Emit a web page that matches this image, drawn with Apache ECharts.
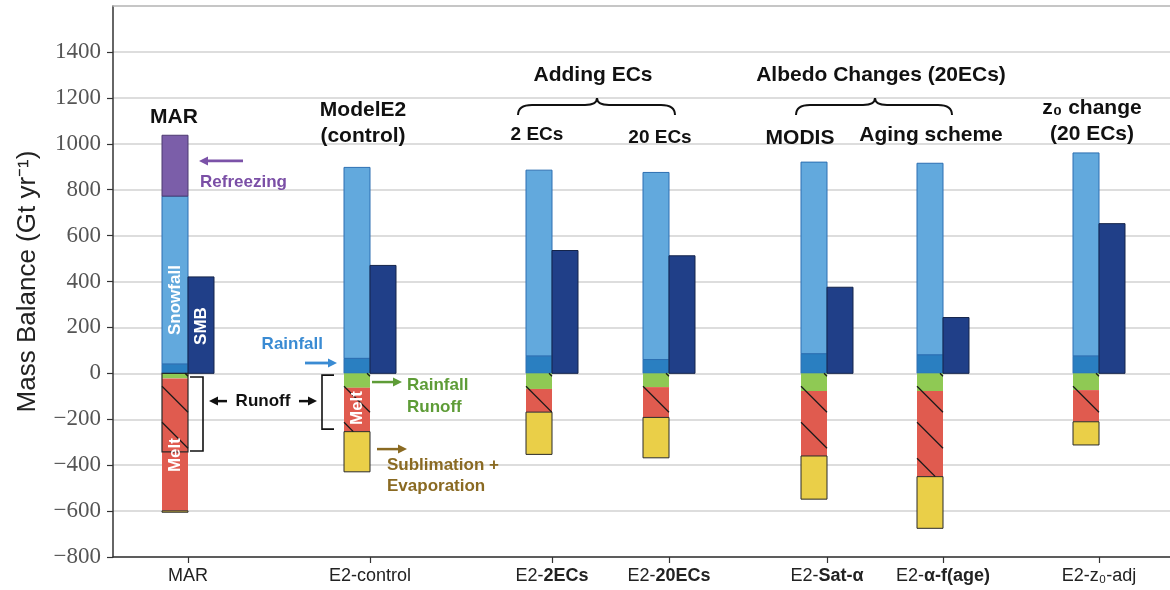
<!DOCTYPE html>
<html>
<head>
<meta charset="utf-8">
<script src="https://cdn.jsdelivr.net/npm/echarts@6/dist/echarts.min.js"></script>
<style>
  html, body { margin: 0; padding: 0; background: #fff; }
  #chart { width: 1170px; height: 590px; }
</style>
</head>
<body>
<div id="chart"></div>
<script>
// Greenland ice-sheet surface mass balance components (Gt/yr), MAR vs ModelE2 runs
const caseLabels = ['MAR', 'E2-control', '{n|E2-}{b|2ECs}', '{n|E2-}{b|20ECs}',
                    '{n|E2-}{b|Sat-α}', '{n|E2-}{b|α-f(age)}', 'E2-z₀-adj'];
// position of each case along the horizontal axis (axis units)
const caseSlot = [75, 257, 439, 556, 714, 830, 986];

// accumulation side (left column, stacked upward)
const rainfall   = [40, 65, 75, 60, 85, 80, 75];
const snowfall   = [732, 832, 810, 815, 835, 835, 885];
const refreezing = [265, 0, 0, 0, 0, 0, 0];
// surface mass balance (right column)
const smb        = [420, 470, 535, 512, 375, 243, 652];
// ablation side (left column, stacked downward)
const rainRunoff  = [22, 63, 68, 60, 77, 77, 73];
const melt        = [577, 191, 101, 132, 283, 373, 138];
const sublimation = [6, 175, 184, 176, 188, 225, 101];
// total runoff (hatched part of the ablation column)
const runoff      = [342, 254, 169, 192, 360, 450, 211];

const yTicks = [-800, -600, -400, -200, 0, 200, 400, 600, 800, 1000, 1200, 1400];

const BAR_W = 26;
const SANS = '"Liberation Sans", Arial, Helvetica, sans-serif';

// ---- stacked segments: [slot, low, high, side]  (side -1 = left column, +1 = right column)
function segs(fn) {
  const out = [];
  caseSlot.forEach((s, i) => {
    const r = fn(i);
    if (r && r[1] - r[0] > 0) out.push([s, r[0], r[1], r[2], r[3] || 0]);
  });
  return out;
}
const rainSeg   = segs(i => [0, rainfall[i], -1]);
const snowSeg   = segs(i => [rainfall[i], rainfall[i] + snowfall[i], -1]);
const refrSeg   = segs(i => [rainfall[i] + snowfall[i], rainfall[i] + snowfall[i] + refreezing[i], -1]);
const smbSeg    = segs(i => [0, smb[i], 1]);
const greenSeg  = segs(i => [-rainRunoff[i], 0, -1]);
const meltSeg   = segs(i => [-(rainRunoff[i] + melt[i]), -rainRunoff[i], -1]);
const subSeg    = segs(i => [-(rainRunoff[i] + melt[i] + sublimation[i]), -(rainRunoff[i] + melt[i]), -1]);
// 5th field flags runoff that stops short of the melt column (part of the melt refreezes)
const runoffSeg = segs(i => [-runoff[i], 0, -1, runoff[i] < rainRunoff[i] + melt[i] - 5 ? 1 : 0]);

function rectOf(api) {
  const slot = api.value(0), lo = api.value(1), hi = api.value(2), side = api.value(3);
  const top = api.coord([slot, hi]), bot = api.coord([slot, lo]);
  const w = api.size([BAR_W, 0])[0];
  return { x: side < 0 ? top[0] - w : top[0], y: top[1], width: w, height: bot[1] - top[1] };
}

function barSeries(name, data, fill, stroke, lw) {
  return {
    type: 'custom', name, data,
    encode: { x: 0, y: [1, 2] },
    renderItem: (params, api) => ({
      type: 'rect',
      shape: rectOf(api),
      style: { fill, stroke: stroke || null, lineWidth: lw || 0 }
    })
  };
}

// hatched runoff overlay
const HATCH_STEP = 36, HATCH_OFF = 13;
const runoffSeries = {
  type: 'custom', name: 'Runoff', data: runoffSeg,
  encode: { x: 0, y: [1, 2] },
  renderItem: (params, api) => {
    const r = rectOf(api);
    const x0 = r.x, w = r.width, yT = r.y, yB = r.y + r.height;
    const children = [];
    if (api.value(4)) {
      children.push({ type: 'rect', shape: r, style: { fill: null, stroke: '#2a2a2a', lineWidth: 1.2 } });
    }
    for (let c = yT + HATCH_OFF - HATCH_STEP; c < yB; c += HATCH_STEP) {
      const xs = x0 + Math.max(0, yT - c);
      const xe = x0 + Math.min(w, yB - c);
      if (xe > xs) {
        children.push({
          type: 'line',
          shape: { x1: xs, y1: c + (xs - x0), x2: xe, y2: c + (xe - x0) },
          style: { stroke: '#1a1a1a', lineWidth: 1.3 }
        });
      }
    }
    return { type: 'group', children };
  }
};

// ---- annotations, placed in axis coordinates
function notesRender(params, api) {
  const P = (x, v) => api.coord([x, v]);
  const kids = [];
  const text = (x, v, s, o) => {
    const p = P(x, v);
    kids.push({
      type: 'text', x: p[0], y: p[1], rotation: o.rot || 0,
      style: {
        text: s, x: 0, y: 0, fill: o.color || '#111',
        font: `${o.weight || 'bold'} ${o.size || 17}px ${SANS}`,
        textAlign: o.align || 'center', textVerticalAlign: 'middle',
        align: o.align || 'center', verticalAlign: 'middle'
      }
    });
  };
  const arrow = (xa, xb, v, color, lw) => {
    const a = P(xa, v), b = P(xb, v);
    const dir = Math.sign(b[0] - a[0]);
    const hl = 9, hw = 4.5;
    kids.push({ type: 'line', shape: { x1: a[0], y1: a[1], x2: b[0] - dir * hl, y2: b[1] },
                style: { stroke: color, lineWidth: lw || 2.5 } });
    kids.push({ type: 'polygon',
                shape: { points: [[b[0], b[1]], [b[0] - dir * hl, b[1] - hw], [b[0] - dir * hl, b[1] + hw]] },
                style: { fill: color } });
  };
  const brace = (xl, xr, xt, vTip, vMid, vEnd) => {
    const L = P(xl, vEnd), R = P(xr, vEnd), T = P(xt, vTip), M = P(xt, vMid);
    const ym = M[1], r = 14, r2 = 12;
    const st = { stroke: '#111', lineWidth: 2, fill: null };
    kids.push({ type: 'bezierCurve', shape: { x1: L[0], y1: L[1], cpx1: L[0], cpy1: ym, x2: L[0] + r, y2: ym }, style: st });
    kids.push({ type: 'line', shape: { x1: L[0] + r, y1: ym, x2: T[0] - r2, y2: ym }, style: st });
    kids.push({ type: 'bezierCurve', shape: { x1: T[0] - r2, y1: ym, cpx1: T[0], cpy1: ym, x2: T[0], y2: T[1] }, style: st });
    kids.push({ type: 'bezierCurve', shape: { x1: T[0] + r2, y1: ym, cpx1: T[0], cpy1: ym, x2: T[0], y2: T[1] }, style: st });
    kids.push({ type: 'line', shape: { x1: T[0] + r2, y1: ym, x2: R[0] - r, y2: ym }, style: st });
    kids.push({ type: 'bezierCurve', shape: { x1: R[0], y1: R[1], cpx1: R[0], cpy1: ym, x2: R[0] - r, y2: ym }, style: st });
  };
  const bracket = (xOpen, xClose, vTop, vBot) => {
    const a = P(xOpen, vTop), b = P(xClose, vTop), c = P(xClose, vBot), d = P(xOpen, vBot);
    kids.push({ type: 'polyline', shape: { points: [a, b, c, d] },
                style: { stroke: '#111', lineWidth: 1.6, fill: null } });
  };

  // group headings
  text(61, 1114, 'MAR', { size: 21 });
  text(250, 1147, 'ModelE2', { size: 21 });
  text(250, 1032, '(control)', { size: 21 });
  text(480, 1297, 'Adding ECs', { size: 21 });
  brace(405, 562, 484, 1199, 1169, 1125);
  text(424, 1038, '2 ECs', { size: 19 });
  text(547, 1025, '20 ECs', { size: 19 });
  text(768, 1297, 'Albedo Changes (20ECs)', { size: 21 });
  brace(683, 839, 762, 1199, 1169, 1125);
  text(687, 1025, 'MODIS', { size: 21 });
  text(818, 1038, 'Aging scheme', { size: 21 });
  text(979, 1156, 'z₀ change', { size: 21 });
  text(979, 1043, '(20 ECs)', { size: 21 });

  // component call-outs
  arrow(130, 86, 925, '#7b52a8', 2.8);
  text(87, 833, 'Refreezing', { color: '#7b4fa6', align: 'left' });
  text(210, 128, 'Rainfall', { color: '#3a8bd3', align: 'right' });
  arrow(192, 224, 45, '#3a8bd3', 2.8);
  arrow(259, 289, -38, '#5e9c37', 2.5);
  text(294, -53, 'Rainfall', { color: '#5e9c37', align: 'left' });
  text(294, -147, 'Runoff', { color: '#5e9c37', align: 'left' });
  arrow(264, 294, -330, '#8a6a22', 2.5);
  text(274, -401, 'Sublimation +', { color: '#8a6a22', align: 'left' });
  text(274, -492, 'Evaporation', { color: '#8a6a22', align: 'left' });

  // runoff brackets
  bracket(77, 90, -16, -338);
  bracket(221, 209, -8, -243);
  arrow(114, 96, -121, '#111', 2.5);
  text(150, -121, 'Runoff', { color: '#111' });
  arrow(186, 204, -121, '#111', 2.5);

  // labels inside bars
  text(caseSlot[0] - BAR_W / 2, 319, 'Snowfall', { color: '#fff', rot: Math.PI / 2, size: 17 });
  text(caseSlot[0] + BAR_W / 2, 206, 'SMB', { color: '#fff', rot: Math.PI / 2, size: 17 });
  text(caseSlot[0] - BAR_W / 2, -356, 'Melt', { color: '#fff', rot: Math.PI / 2, size: 17 });
  text(caseSlot[1] - BAR_W / 2, -151, 'Melt', { color: '#fff', rot: Math.PI / 2, size: 17 });

  return { type: 'group', children: kids };
}

const chart = echarts.init(document.getElementById('chart'), null, { renderer: 'canvas' });
chart.setOption({
  animation: false,
  backgroundColor: '#fff',
  grid: { left: 113, right: 0, top: 6, bottom: 33 },
  xAxis: [{
    type: 'value', min: 0, max: 1057, position: 'bottom',
    axisLine: { show: true, onZero: false, lineStyle: { color: '#333', width: 1.5 } },
    axisTick: { show: true, customValues: caseSlot, length: 6, lineStyle: { color: '#333', width: 1.2 } },
    axisLabel: {
      customValues: caseSlot,
      formatter: v => caseLabels[caseSlot.indexOf(v)] || '',
      fontFamily: SANS, fontSize: 18, color: '#222', margin: 10,
      rich: {
        n: { fontFamily: SANS, fontSize: 18, color: '#222' },
        b: { fontFamily: SANS, fontSize: 18, color: '#222', fontWeight: 'bold' }
      }
    },
    splitLine: { show: false }
  }, {
    // upper frame edge
    type: 'value', min: 0, max: 1057, position: 'top',
    axisLine: { show: true, onZero: false, lineStyle: { color: '#b4b4b4', width: 1.5 } },
    axisTick: { show: false }, axisLabel: { show: false }, splitLine: { show: false }
  }],
  yAxis: {
    type: 'value', min: -800, max: 1600, interval: 200,
    name: 'Mass Balance (Gt yr⁻¹)',
    nameLocation: 'middle', nameGap: 72,
    nameTextStyle: { fontFamily: SANS, fontSize: 26, color: '#222' },
    axisLine: { show: true, lineStyle: { color: '#333', width: 1.5 } },
    axisTick: { show: true, customValues: yTicks, length: 6, lineStyle: { color: '#333', width: 1.2 } },
    axisLabel: {
      customValues: yTicks,
      formatter: v => String(v).replace('-', '−'),
      fontFamily: '"Liberation Serif", "DejaVu Serif", serif', fontSize: 23, color: '#555', margin: 12
    },
    splitLine: { show: true, lineStyle: { color: '#d2d2d2', width: 1.5 } }
  },
  series: [
    barSeries('Snowfall', snowSeg, '#62a9dd', '#2c6fb2', 1),
    barSeries('Rainfall', rainSeg, '#2a7fc1', '#2c6fb2', 1),
    barSeries('Refreezing', refrSeg, '#7b5ea9', '#4c3a70', 1),
    barSeries('SMB', smbSeg, '#203f88', '#14244a', 1),
    barSeries('Rainfall runoff', greenSeg, '#8fc954', null, 0),
    barSeries('Melt', meltSeg, '#e05b4f', null, 0),
    barSeries('Sublimation + evaporation', subSeg, '#eacf48', '#2a2a2a', 1),
    runoffSeries,
    { type: 'custom', name: 'notes', data: [[0, 0]], encode: { x: 0, y: 1 }, silent: true, renderItem: notesRender }
  ]
});
</script>
</body>
</html>
